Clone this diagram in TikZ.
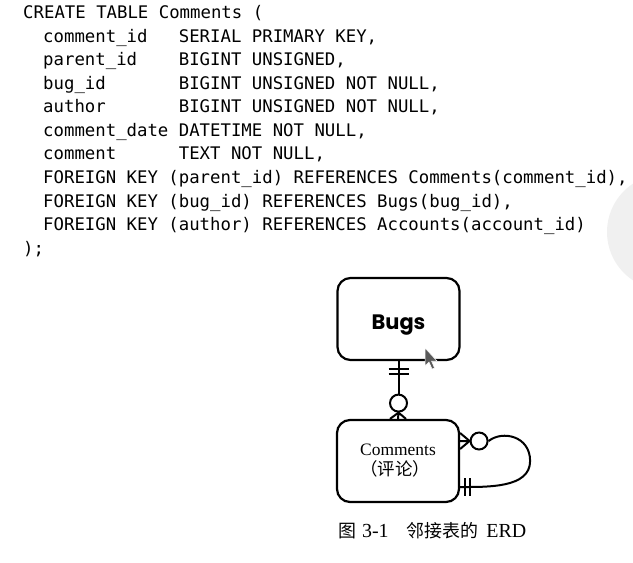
\documentclass[tikz,border=0pt]{standalone}
\usepackage{fontspec}
\setmainfont{Liberation Serif}
\newfontfamily\codefont{DejaVu Sans Mono}
\newfontfamily\headfont{Poppins}
\newfontfamily\cjk{Noto Sans CJK SC}
\usetikzlibrary{positioning}

\tikzset{
  code/.style={anchor=base west, inner sep=0pt, font=\codefont\fontsize{17.4}{20}\selectfont},
  entity/.style={draw, line width=2.2bp, rounded corners=13bp, minimum width=122bp, minimum height=82bp, inner sep=0pt},
  opt/.style={circle, draw, fill=white, line width=2bp, minimum size=17bp, inner sep=0pt},
  rel/.style={line width=2bp}
}

\begin{document}
\begin{tikzpicture}[x=1bp, y=-1bp]
      \fill[white] (0,0) rectangle (633,563);
      \begin{scope}
        \clip (0,0) rectangle (633,563);
        \fill[black!6] (665,232) circle[radius=58];
      \end{scope}
      % table definition
      \node[code] (l1) at (23,19) {CREATE TABLE Comments (};
      \node[code] (l2) at (43,42.5) {comment\_id~~~SERIAL PRIMARY KEY,};
      \node[code] (l3) at (43,66) {parent\_id~~~~BIGINT UNSIGNED,};
      \node[code] (l4) at (43,89.5) {bug\_id~~~~~~~BIGINT UNSIGNED NOT NULL,};
      \node[code] (l5) at (43,113) {author~~~~~~~BIGINT UNSIGNED NOT NULL,};
      \node[code] (l6) at (43,136.5) {comment\_date DATETIME NOT NULL,};
      \node[code] (l7) at (43,160) {comment~~~~~~TEXT NOT NULL,};
      \node[code] (l8) at (43,183.5) {FOREIGN KEY (parent\_id) REFERENCES Comments(comment\_id),};
      \node[code] (l9) at (43,207) {FOREIGN KEY (bug\_id) REFERENCES Bugs(bug\_id),};
      \node[code] (l10) at (43,230.5) {FOREIGN KEY (author) REFERENCES Accounts(account\_id)};
      \node[code] (l11) at (23,254) {);};
      % entities
      \node[entity] (bugs) at (398.5,319)
        {\raisebox{-10bp}[0pt][0pt]{\headfont\fontseries{sb}\selectfont\fontsize{21}{24}\selectfont Bugs}};
      \node[entity, align=left, font=\fontsize{17.5}{20}\selectfont] (comments) at (398,461)
        {Comments\\{\cjk （评论）}};
      % Bugs -- Comments
      \node[opt] (o1) at ([yshift=-42bp]bugs.south) {};
      \draw[rel] (bugs.south) -- (o1.north);
      \draw[rel] ([shift={(-10bp,-8bp)}]bugs.south) -- ++(20,0);
      \draw[rel] ([shift={(-10bp,-12.5bp)}]bugs.south) -- ++(20,0);
      \draw[rel] ([xshift=-8bp]comments.north) -- (o1.south) -- ([xshift=8bp]comments.north)
        (o1.south) -- (comments.north);
      % Comments -- Comments
      \coordinate (foot) at ([yshift=20bp]comments.east);
      \coordinate (loop) at ([xshift=70bp]comments.east);
      \coordinate (back) at ([yshift=-26bp]comments.east);
      \node[opt] (o2) at ([xshift=19bp]foot) {};
      \draw[rel] ([yshift=8bp]foot) -- (o2.west) -- ([yshift=-8bp]foot)
        (o2.west) -- (foot);
      \draw[rel] (o2.east) .. controls +(14,-11) and +(0,-25) .. (loop)
        .. controls +(0,27) and +(28,0) .. (back);
      \draw[rel] ([shift={(5bp,9bp)}]back) -- ++(0,18);
      \draw[rel] ([shift={(9.5bp,9bp)}]back) -- ++(0,18);
      % pointer
      \fill[gray!70!black, draw=white, line width=0.5bp] (425,348) -- (425,366) -- (429,362) -- (432,369)
        -- (434.5,368) -- (431.5,361) -- (437,361) -- cycle;
      % caption
      \node[anchor=base west, inner sep=0pt] (caption) at (338,537)
        {{\cjk\fontsize{18}{20}\selectfont 图}\hspace{6bp}{\fontsize{20}{22}\selectfont 3-1}\hspace{18bp}{\cjk\fontsize{18}{20}\selectfont 邻接表的}\hspace{8bp}{\fontsize{20}{22}\selectfont ERD}};
\end{tikzpicture}
\end{document}
